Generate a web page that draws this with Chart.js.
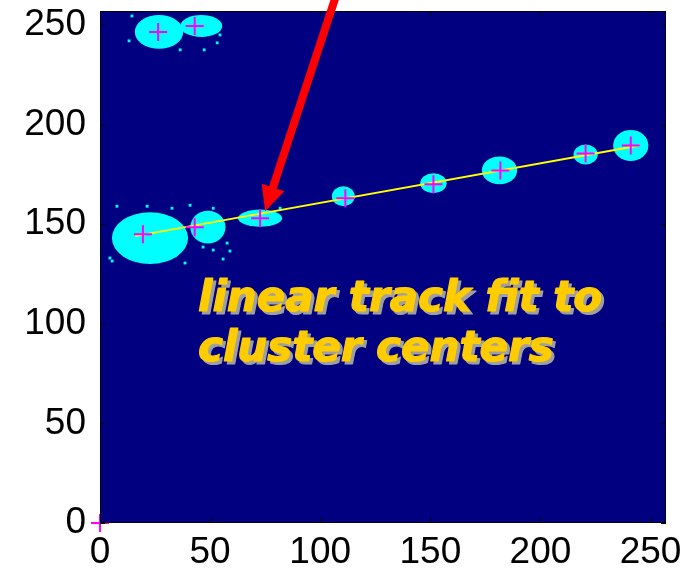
<!DOCTYPE html>
<html>
<head>
<meta charset="utf-8">
<script src="https://cdn.jsdelivr.net/npm/chart.js@4/dist/chart.umd.min.js"></script>
<style>
  html, body { margin: 0; padding: 0; background: #fff; }
</style>
</head>
<body>
<canvas id="grafico" width="687" height="572"></canvas>
<script>
// DATOS
const tickValues = [0, 50, 100, 150, 200, 250];

// cluster centers (+)
const centerX = [19.5, 43, 72.7, 111.4, 151.4, 181.8, 220.5, 241, 26.4, 43];
const centerY = [145, 148.5, 153, 163, 170, 177, 185.5, 189.5, 246.5, 249.5];

// hit blobs: center and half sizes
const blobX = [22.7, 49, 72.7, 110.5, 151.4, 181.4, 220.5, 241, 26.8, 46];
const blobY = [143, 148.5, 153, 164, 170.5, 177, 185, 189.5, 246.5, 249.5];
const blobRx = [17.3, 8, 10, 5.2, 6, 8, 5.5, 8, 11, 9.5];
const blobRy = [13, 8.2, 4.3, 5, 5, 7, 5, 7.8, 8.5, 5.5];

// loose hits around the blobs
const speckX = [7.7, 21.4, 40.9, 32.7, 51.4, 4.5, 5.5, 38.6, 51.4, 55.9, 57.7, 46.8, 81.8, 59, 14.5, 13.2, 36.4, 47.3, 53.2, 54.5];
const speckY = [159, 159, 159.5, 158, 158, 133, 131.5, 130.5, 137, 132.5, 140.5, 138.5, 158, 136.5, 254.5, 242, 237.5, 237.5, 241, 245];

// linear fit
const fitX = [16, 245];
const fitY = [144, 189.5];

// arrow
const arrowX = [108, 75];
const arrowY = [267.5, 156.5];

const textLines = ["linear track fit to", "cluster centers"];

function puntos(xs, ys) {
  return xs.map((x, i) => ({ x: x, y: ys[i] }));
}

// PLUGIN: fondo, manchas, marco, flecha, texto
const plotPlugin = {
  id: "plot",
  beforeDatasetDraw(chart, args) {
    if (args.index !== 1) return;
    const { ctx, chartArea: a, scales } = chart;
    const sx = scales.x, sy = scales.y;
    ctx.save();
    ctx.fillStyle = "#000080";
    ctx.fillRect(a.left, a.top, a.right - a.left, a.bottom - a.top);
    ctx.beginPath();
    ctx.rect(a.left, a.top, a.right - a.left, a.bottom - a.top);
    ctx.clip();
    ctx.fillStyle = "#00ffff";
    blobX.forEach((bx, i) => {
      const cx = sx.getPixelForValue(bx);
      const cy = sy.getPixelForValue(blobY[i]);
      const rx = Math.abs(sx.getPixelForValue(bx + blobRx[i]) - cx);
      const ry = Math.abs(sy.getPixelForValue(blobY[i] + blobRy[i]) - cy);
      ctx.beginPath();
      ctx.ellipse(cx, cy, rx, ry, 0, 0, Math.PI * 2);
      ctx.fill();
    });
    ctx.restore();
  },
  afterDatasetsDraw(chart) {
    const { ctx, chartArea: a, scales } = chart;
    const sx = scales.x, sy = scales.y;
    ctx.save();

    // marco y ticks hacia adentro
    ctx.strokeStyle = "#000";
    ctx.lineWidth = 1;
    ctx.strokeRect(a.left + 0.5, a.top + 0.5, a.right - a.left - 1, a.bottom - a.top - 1);
    ctx.beginPath();
    tickValues.forEach(v => {
      const px = Math.round(sx.getPixelForValue(v)) + 0.5;
      ctx.moveTo(px, a.bottom); ctx.lineTo(px, a.bottom - 5);
      ctx.moveTo(px, a.top); ctx.lineTo(px, a.top + 5);
      const py = Math.round(sy.getPixelForValue(v)) + 0.5;
      ctx.moveTo(a.left, py); ctx.lineTo(a.left + 5, py);
      ctx.moveTo(a.right, py); ctx.lineTo(a.right - 5, py);
    });
    ctx.stroke();

    // flecha
    const x0 = sx.getPixelForValue(arrowX[0]), y0 = sy.getPixelForValue(arrowY[0]);
    const x1 = sx.getPixelForValue(arrowX[1]), y1 = sy.getPixelForValue(arrowY[1]);
    const ang = Math.atan2(y1 - y0, x1 - x0);
    const largo = 25, ancho = 12;
    const bx = x1 - largo * Math.cos(ang), by = y1 - largo * Math.sin(ang);
    ctx.strokeStyle = "#ff0000";
    ctx.fillStyle = "#ff0000";
    ctx.lineWidth = 8;
    ctx.beginPath();
    ctx.moveTo(x0, y0);
    ctx.lineTo(bx + 2 * Math.cos(ang), by + 2 * Math.sin(ang));
    ctx.stroke();
    ctx.beginPath();
    ctx.moveTo(x1, y1);
    ctx.lineTo(bx - ancho * Math.sin(ang), by + ancho * Math.cos(ang));
    ctx.lineTo(bx + ancho * Math.sin(ang), by - ancho * Math.cos(ang));
    ctx.closePath();
    ctx.fill();

    // texto con sombra
    ctx.font = "italic bold 42px 'DejaVu Sans'";
    ctx.textAlign = "left";
    ctx.textBaseline = "alphabetic";
    ctx.lineWidth = 1.2;
    ctx.lineJoin = "round";
    const tx = sx.getPixelForValue(44.5);
    const baselines = [106.5, 81.5];
    textLines.forEach((t, i) => {
      const ty = sy.getPixelForValue(baselines[i]);
      ctx.fillStyle = ctx.strokeStyle = "#a0a0a0";
      ctx.fillText(t, tx + 3, ty + 3);
      ctx.strokeText(t, tx + 3, ty + 3);
      ctx.fillStyle = ctx.strokeStyle = "#ffcc00";
      ctx.fillText(t, tx, ty);
      ctx.strokeText(t, tx, ty);
    });
    ctx.restore();
  }
};

// GRAFICO
const ejeFont = { family: "'Liberation Sans', Arial", size: 37 };

new Chart(document.getElementById("grafico"), {
  type: "scatter",
  data: {
    datasets: [
      {
        // marker at the origin, drawn first so the plot covers it
        data: [{ x: 0, y: 0 }],
        pointStyle: "cross",
        pointRadius: 9,
        borderColor: "#ff00ff",
        pointBorderWidth: 2,
        clip: false,
        order: 4
      },
      {
        data: puntos(speckX, speckY),
        pointStyle: "rect",
        pointRadius: 2,
        backgroundColor: "#00ffff",
        borderWidth: 0,
        order: 3
      },
      {
        data: puntos(fitX, fitY),
        showLine: true,
        borderColor: "#ffff00",
        borderWidth: 2,
        pointRadius: 0,
        order: 2
      },
      {
        data: puntos(centerX, centerY),
        pointStyle: "cross",
        pointRadius: 9,
        borderColor: "#ff00ff",
        pointBorderWidth: 2,
        order: 1
      }
    ]
  },
  options: {
    responsive: false,
    animation: false,
    layout: { padding: { top: 9, right: 21, left: 0, bottom: 0 } },
    plugins: {
      legend: { display: false },
      tooltip: { enabled: false }
    },
    scales: {
      x: {
        type: "linear",
        min: 0,
        max: 257,
        afterBuildTicks: s => { s.ticks = tickValues.map(v => ({ value: v })); },
        afterFit: s => { s.height = 49; s.paddingLeft = 0; s.paddingRight = 0; },
        grid: { display: false, drawTicks: false },
        border: { display: false },
        ticks: { color: "#000", font: ejeFont, padding: 8, maxRotation: 0 }
      },
      y: {
        type: "linear",
        min: 0,
        max: 257,
        afterBuildTicks: s => { s.ticks = tickValues.map(v => ({ value: v })); },
        afterFit: s => { s.width = 100; s.paddingTop = 0; s.paddingBottom = 0; },
        grid: { display: false, drawTicks: false },
        border: { display: false },
        ticks: { color: "#000", font: ejeFont, padding: 14 }
      }
    }
  },
  plugins: [plotPlugin]
});
</script>
</body>
</html>
